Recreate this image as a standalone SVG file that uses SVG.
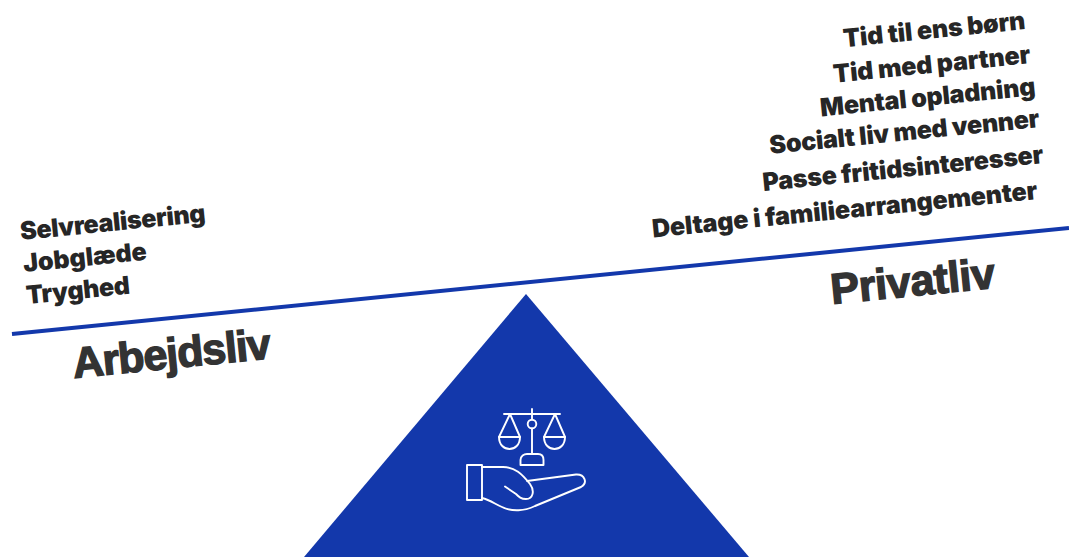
<svg xmlns="http://www.w3.org/2000/svg" width="1069" height="557" viewBox="0 0 1069 557">
<style>
.t{font-family:Inter,"Liberation Sans",sans-serif;font-weight:900;fill:#262626}
.s{font-size:25px}
.h{font-family:"Liberation Sans",Arimo,sans-serif;font-weight:700;font-size:43px;fill:#333333;stroke:#333333;stroke-width:1.4}
.ic{fill:none;stroke:#fff;stroke-width:1.9;stroke-linejoin:round;stroke-linecap:round}
</style>
<rect width="1069" height="557" fill="#fff"/>
<g id="connectors"><line x1="12" y1="334" x2="1069" y2="228" stroke="#1338ab" stroke-width="4"/></g>
<g id="fulcrum"><polygon points="526,294 749,557 304,557" fill="#1338ab"/>
<g class="ic">
<path d="M532 409V454M504 414H560M510 414L499 437H520ZM555 414L544 437H565Z"/>
<path d="M499 437C499 453 520 453 520 437M544 437C544 453 565 453 565 437"/>
<circle cx="532" cy="424" r="4.3" fill="#1338ab"/>
<path d="M520.500 465V460C520.500 456 524 454 527 454H538C541 454 543.500 456 543.500 460V465Z"/>
<rect x="467" y="465" width="15" height="35"/>
<path d="M482 467H503C515 467 522 474 530 484C535 491 533 499 526 499C521 499 519 497 516 494L505 486.500"/>
<path d="M527 481L576 474.500C585 474 588 483 581 487L535 506C525 511 512 512 502 507C495 504 490 500 482 498"/>
</g></g>
<g id="arbejdsliv">
<text class="t h" textLength="199" transform="translate(74,378) rotate(-5.7)">Arbejdsliv</text>
<text class="t s" textLength="186" transform="translate(21,240) rotate(-5.7)">Selvrealisering</text>
<text class="t s" textLength="124" transform="translate(24,272) rotate(-5.7)">Jobglæde</text>
<text class="t s" textLength="104" transform="translate(27,304) rotate(-5.7)">Tryghed</text>
</g>
<g id="privatliv">
<text class="t h" textLength="165" transform="translate(832,304) rotate(-5.7)">Privatliv</text>
<text class="t s" text-anchor="end" textLength="183" transform="translate(1026,29) rotate(-5.7)">Tid til ens børn</text>
<text class="t s" text-anchor="end" textLength="198" transform="translate(1031,63) rotate(-5.7)">Tid med partner</text>
<text class="t s" text-anchor="end" textLength="216" transform="translate(1036,95) rotate(-5.7)">Mental opladning</text>
<text class="t s" text-anchor="end" textLength="271" transform="translate(1040,127) rotate(-5.7)">Socialt liv med venner</text>
<text class="t s" text-anchor="end" textLength="282" transform="translate(1044,163) rotate(-5.7)">Passe fritidsinteresser</text>
<text class="t s" text-anchor="end" textLength="387" transform="translate(1038,199) rotate(-5.7)">Deltage i familiearrangementer</text>
</g>
</svg>
